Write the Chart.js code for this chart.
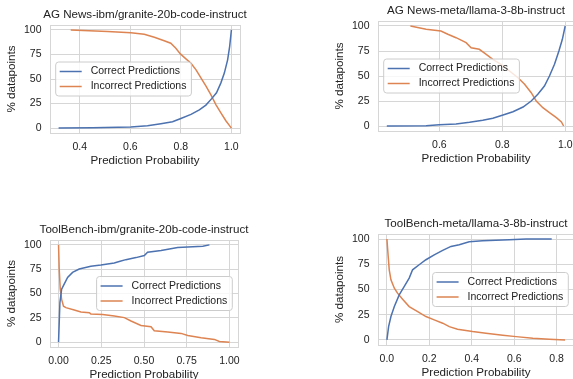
<!DOCTYPE html>
<html>
<head>
<meta charset="utf-8">
<script src="https://cdn.jsdelivr.net/npm/chart.js@4.4.1/dist/chart.umd.min.js"></script>
<style>
  html, body { margin: 0; padding: 0; background: #fff; width: 573px; height: 379px; overflow: hidden; }
  canvas { position: absolute; }
</style>
</head>
<body>
<canvas id="agGranite"></canvas>
<canvas id="agLlama"></canvas>
<canvas id="tbGranite"></canvas>
<canvas id="tbLlama"></canvas>
<script>
// values
const yTicks = [0, 25, 50, 75, 100];

const agGraniteTicks = [0.4, 0.6, 0.8, 1.0];
const agGraniteCorrectX = [0.316, 0.45, 0.602, 0.668, 0.721, 0.767, 0.8, 0.84, 0.873, 0.899, 0.922, 0.941, 0.958, 0.972, 0.985, 0.993, 1.0];
const agGraniteCorrectY = [0, 0.3, 1, 2.4, 4.4, 6.4, 9.8, 13.9, 18.6, 23.4, 30, 36, 45.8, 56, 69.5, 83, 100];
const agGraniteIncorrectX = [0.364, 0.51, 0.602, 0.655, 0.695, 0.734, 0.76, 0.78, 0.798, 0.82, 0.84, 0.86, 0.88, 0.9, 0.919, 0.939, 0.959, 0.978, 1.0];
const agGraniteIncorrectY = [100, 98.3, 97, 95.6, 92.5, 89, 86.4, 81.4, 75.6, 70.5, 66, 59.3, 50.8, 42.4, 33.9, 23.7, 15.3, 7.5, 0];

const agLlamaTicks = [0.6, 0.8, 1.0];
const agLlamaCorrectX = [0.433, 0.558, 0.6, 0.653, 0.696, 0.738, 0.77, 0.8, 0.834, 0.866, 0.892, 0.913, 0.934, 0.95, 0.966, 0.98, 0.991, 1.0];
const agLlamaCorrectY = [0, 0.3, 1.3, 2, 3.7, 5.7, 7.7, 10.7, 14.3, 19, 25, 31.7, 40, 50, 61.7, 75, 86.7, 100];
const agLlamaIncorrectX = [0.508, 0.558, 0.605, 0.627, 0.653, 0.685, 0.701, 0.727, 0.749, 0.77, 0.796, 0.823, 0.85, 0.871, 0.892, 0.908, 0.929, 0.95, 0.972, 0.988, 0.995];
const agLlamaIncorrectY = [100, 96.7, 95, 91.7, 88.3, 83.3, 78.3, 76.7, 71.7, 66.7, 61.7, 55, 48.3, 41.7, 33.3, 25, 18.3, 13.3, 8.3, 4, 0];

const tbGraniteTicks = [0, 0.25, 0.5, 0.75, 1.0];
const tbGraniteCorrectX = [0, 0.008, 0.018, 0.033, 0.053, 0.082, 0.121, 0.189, 0.248, 0.326, 0.355, 0.394, 0.453, 0.502, 0.521, 0.6, 0.697, 0.756, 0.844, 0.883];
const tbGraniteCorrectY = [0, 40.7, 54.5, 59.7, 66.6, 71.7, 75.2, 78, 79.3, 81.4, 82.8, 84.8, 86.9, 89, 92.4, 94.1, 97.2, 97.9, 98.6, 100];
const tbGraniteIncorrectX = [0, 0.004, 0.01, 0.018, 0.029, 0.043, 0.092, 0.131, 0.18, 0.189, 0.258, 0.326, 0.385, 0.424, 0.482, 0.541, 0.56, 0.639, 0.717, 0.756, 0.834, 0.912, 0.941, 1.0];
const tbGraniteIncorrectY = [100, 75, 54.5, 44, 37, 35.5, 33, 31, 30.3, 29, 28.3, 26.9, 25.2, 21.7, 17.2, 15.9, 11.7, 10.3, 9, 6.9, 4.5, 2.8, 0.7, 0];

const tbLlamaTicks = [0, 0.2, 0.4, 0.6, 0.8];
const tbLlamaCorrectX = [0, 0.008, 0.019, 0.035, 0.058, 0.082, 0.105, 0.121, 0.152, 0.184, 0.223, 0.263, 0.302, 0.341, 0.388, 0.451, 0.577, 0.656, 0.777];
const tbLlamaCorrectY = [0, 13.2, 23.2, 33.1, 44.7, 53, 61.3, 69.5, 74.5, 79.5, 84.4, 88.7, 92.7, 94.4, 97.4, 98.3, 99.3, 100, 100];
const tbLlamaIncorrectX = [0, 0.006, 0.011, 0.019, 0.035, 0.05, 0.074, 0.105, 0.145, 0.184, 0.223, 0.263, 0.294, 0.333, 0.404, 0.467, 0.546, 0.609, 0.688, 0.766, 0.84];
const tbLlamaIncorrectY = [100, 82.8, 69.5, 59.6, 51.3, 46.4, 40.4, 33.1, 28.1, 23.2, 19.9, 16.6, 13.2, 10.6, 8.3, 6.6, 4.6, 3.3, 1.7, 0.7, 0];

const FONT = "'Liberation Sans', Arial, sans-serif";
const TEXT = "#222222";
const GRID = "#d6d6d6";
const BLUE = "#4c72b0";
const ORANGE = "#dd8452";
const AXIS_W = 45;   // y axis block (labels + title), mirrored on the right
const TITLE_H = 17;
const XAXIS_H = 35;

const zip = (xs, ys) => xs.map((x, i) => ({ x, y: ys[i] }));

// matplotlib style legend box, centred vertically against the plot edge
const boxLegend = {
  id: "boxLegend",
  afterDraw(chart, args, opts) {
    const { ctx, chartArea: a } = chart;
    ctx.save();
    ctx.font = "10.5px " + FONT;
    const sets = chart.data.datasets;
    const tw = Math.max(...sets.map((d) => ctx.measureText(d.label).width));
    const w = 4 + 22 + 9 + tw + 5;
    const h = 34;
    const x = opts.side === "right" ? a.right - 5.7 - w : a.left + 5.7;
    const y = (a.top + a.bottom) / 2 - h / 2;
    ctx.fillStyle = "rgba(255,255,255,0.8)";
    ctx.strokeStyle = "#cccccc";
    ctx.lineWidth = 1;
    ctx.beginPath();
    ctx.roundRect(x, y, w, h, 3);
    ctx.fill();
    ctx.stroke();
    sets.forEach((d, i) => {
      const ly = y + 9.5 + i * 15;
      ctx.strokeStyle = d.borderColor;
      ctx.lineWidth = 1.5;
      ctx.beginPath();
      ctx.moveTo(x + 4, ly);
      ctx.lineTo(x + 26, ly);
      ctx.stroke();
      ctx.fillStyle = TEXT;
      ctx.textBaseline = "middle";
      ctx.fillText(d.label, x + 35, ly);
    });
    ctx.restore();
  },
};

function panel(id, cfg) {
  const canvas = document.getElementById(id);
  const w = cfg.frame.w + AXIS_W * 2;
  const h = cfg.frame.h + TITLE_H + XAXIS_H;
  canvas.width = w;
  canvas.height = h;
  canvas.style.left = cfg.frame.l - AXIS_W + "px";
  canvas.style.top = cfg.frame.t - TITLE_H + "px";

  const tickFont = { family: FONT, size: 10.5 };
  const labelFont = { family: FONT, size: 11.6, weight: "normal", lineHeight: "14px" };
  const frameBorder = { color: GRID, width: 1 };

  return new Chart(canvas, {
    type: "line",
    data: {
      datasets: [
        { label: "Correct Predictions", data: zip(cfg.cx, cfg.cy), borderColor: BLUE, borderWidth: 1.5, pointRadius: 0, tension: 0 },
        { label: "Incorrect Predictions", data: zip(cfg.ix, cfg.iy), borderColor: ORANGE, borderWidth: 1.5, pointRadius: 0, tension: 0 },
      ],
    },
    options: {
      responsive: false,
      animation: false,
      events: [],
      layout: { padding: 0 },
      plugins: {
        legend: { display: false },
        tooltip: { enabled: false },
        title: { display: true, text: cfg.title, color: TEXT, font: labelFont, padding: { top: 0, bottom: 3 } },
        boxLegend: { side: cfg.legendSide },
      },
      scales: {
        x: {
          type: "linear",
          min: cfg.xMin,
          max: cfg.xMax,
          afterBuildTicks: (s) => { s.ticks = cfg.xTicks.map((v) => ({ value: v })); },
          afterFit: (s) => { s.height = XAXIS_H; },
          ticks: { callback: (v) => Number(v).toFixed(cfg.dec), color: TEXT, font: tickFont, padding: 8, maxRotation: 0, autoSkip: false },
          grid: { color: GRID, lineWidth: 1, drawTicks: false },
          border: frameBorder,
          title: { display: true, text: "Prediction Probability", color: TEXT, font: labelFont, padding: 0 },
        },
        y: {
          min: -5,
          max: 105,
          afterBuildTicks: (s) => { s.ticks = yTicks.map((v) => ({ value: v })); },
          afterFit: (s) => { s.width = AXIS_W; },
          ticks: { color: TEXT, font: tickFont, padding: 8.5 },
          grid: { color: GRID, lineWidth: 1, drawTicks: false },
          border: frameBorder,
          title: { display: true, text: "% datapoints", color: TEXT, font: labelFont, padding: 0 },
        },
        y2: {
          position: "right",
          afterFit: (s) => { s.width = AXIS_W; },
          ticks: { display: false },
          grid: { display: false, drawTicks: false },
          border: frameBorder,
        },
        x2: {
          position: "top",
          type: "linear",
          afterFit: (s) => { s.height = 0; },
          ticks: { display: false },
          grid: { display: false, drawTicks: false },
          border: frameBorder,
        },
      },
    },
    plugins: [boxLegend],
  });
}

panel("agGranite", {
  title: "AG News-ibm/granite-20b-code-instruct",
  frame: { l: 50, t: 25, w: 190, h: 108 },
  xMin: 0.282, xMax: 1.034, xTicks: agGraniteTicks, dec: 1, legendSide: "left",
  cx: agGraniteCorrectX, cy: agGraniteCorrectY, ix: agGraniteIncorrectX, iy: agGraniteIncorrectY,
});
panel("agLlama", {
  title: "AG News-meta/llama-3-8b-instruct",
  frame: { l: 378, t: 21, w: 196, h: 110 },
  xMin: 0.405, xMax: 1.028, xTicks: agLlamaTicks, dec: 1, legendSide: "left",
  cx: agLlamaCorrectX, cy: agLlamaCorrectY, ix: agLlamaIncorrectX, iy: agLlamaIncorrectY,
});
panel("tbGranite", {
  title: "ToolBench-ibm/granite-20b-code-instruct",
  frame: { l: 50, t: 240, w: 188, h: 107 },
  xMin: -0.05, xMax: 1.05, xTicks: tbGraniteTicks, dec: 2, legendSide: "right",
  cx: tbGraniteCorrectX, cy: tbGraniteCorrectY, ix: tbGraniteIncorrectX, iy: tbGraniteIncorrectY,
});
panel("tbLlama", {
  title: "ToolBench-meta/llama-3-8b-instruct",
  frame: { l: 378, t: 234, w: 196, h: 111 },
  xMin: -0.042, xMax: 0.882, xTicks: tbLlamaTicks, dec: 1, legendSide: "right",
  cx: tbLlamaCorrectX, cy: tbLlamaCorrectY, ix: tbLlamaIncorrectX, iy: tbLlamaIncorrectY,
});
</script>
</body>
</html>
